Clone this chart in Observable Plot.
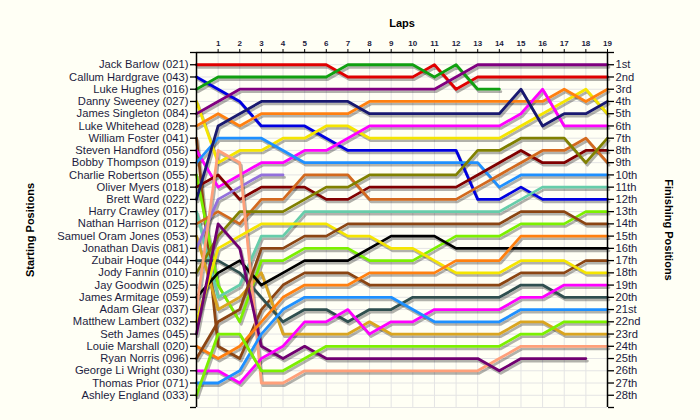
<!DOCTYPE html>
<html><head><meta charset="utf-8">
<script src="https://cdn.jsdelivr.net/npm/d3@7"></script>
<script src="https://cdn.jsdelivr.net/npm/@observablehq/plot@0.6"></script>
<style>
html,body{margin:0;padding:0;background:#FFFFF5;}
#chart svg{display:block;}
</style></head><body><div id="chart"></div>
<script>
const laps = d3.range(0, 20);
const lapTicks = d3.range(1, 20);

const drivers = [
  "Jack Barlow (021)", "Callum Hardgrave (043)", "Luke Hughes (016)", "Danny Sweeney (027)",
  "James Singleton (084)", "Luke Whitehead (028)", "William Foster (041)", "Steven Handford (056)",
  "Bobby Thompson (019)", "Charlie Robertson (055)", "Oliver Myers (018)", "Brett Ward (022)",
  "Harry Crawley (017)", "Nathan Harrison (012)", "Samuel Oram Jones (053)", "Jonathan Davis (081)",
  "Zubair Hoque (044)", "Jody Fannin (010)", "Jay Goodwin (025)", "James Armitage (059)",
  "Adam Glear (037)", "Matthew Lambert (032)", "Seth James (045)", "Louie Marshall (020)",
  "Ryan Norris (096)", "George Li Wright (030)", "Thomas Prior (071)", "Ashley England (033)"
];

const lineColors = [
  "#E00000", "#0000E0", "#10A010", "#F5E500", "#800080", "#FF8010", "#8B4513", "#FF00FF",
  "#1E90FF", "#7CF000", "#800000", "#191970", "#66CDAA", "#D2691E", "#DAA520", "#9370DB",
  "#2F4F4F", "#808000", "#999999", "#000000", "#FFA07A", "#F5E500", "#700070", "#FF8010",
  "#8B4513", "#FF00FF", "#1E90FF", "#7CF000"
];

// position at lap 0 (start) .. lap 19; null = retired
const positions = [
  [1,1,1,1,1,1,1,2,2,2,2,1,3,2,2,2,2,2,2,2],
  [2,3,4,6,6,6,7,8,8,8,8,8,8,12,12,11,12,12,12,12],
  [3,2,2,2,2,2,2,1,1,1,1,2,1,3,3,null,null,null,null,null],
  [4,9,8,8,7,7,6,6,7,7,7,7,7,7,7,6,5,4,3,5],
  [5,4,3,3,3,3,3,3,3,3,3,3,2,1,1,1,1,1,1,1],
  [6,5,6,5,5,5,5,5,4,4,4,4,4,4,4,4,4,3,4,3],
  [7,24,25,21,19,18,18,18,19,19,19,19,19,19,19,18,18,18,17,17],
  [8,11,10,9,9,8,8,7,6,6,6,6,6,6,6,5,3,6,6,6],
  [9,7,7,7,8,9,9,9,9,9,9,9,9,9,11,10,10,10,10,10],
  [10,19,22,17,17,16,16,16,17,17,17,16,15,15,15,14,14,14,13,13],
  [11,10,12,11,11,11,12,12,11,11,11,11,11,10,9,8,9,9,8,8],
  [12,6,5,4,4,4,4,4,5,5,5,5,5,5,5,3,6,5,5,4],
  [13,20,19,15,15,13,13,13,13,13,13,13,13,13,13,12,11,11,11,11],
  [14,13,14,12,12,10,10,10,12,12,12,12,12,11,10,9,8,8,7,9],
  [15,21,20,18,23,23,23,23,22,23,23,23,23,23,23,22,22,23,23,23],
  [16,12,11,10,10,null,null,null,null,null,null,null,null,null,null,null,null,null,null,null],
  [17,17,18,20,22,21,21,22,21,21,20,20,20,20,20,19,19,20,20,20],
  [18,15,13,13,13,12,11,11,10,10,10,10,10,8,8,7,7,7,9,7],
  [19,null,null,null,null,null,null,null,null,null,null,null,null,null,null,null,null,null,null,null],
  [20,18,17,19,18,17,17,17,16,15,15,15,16,16,16,16,16,16,16,16],
  [21,8,9,27,27,26,26,26,26,26,26,26,26,26,25,24,24,24,24,24],
  [22,16,15,14,14,14,14,15,15,16,16,17,18,18,18,17,17,17,18,18],
  [23,14,16,24,25,24,25,25,25,25,25,25,25,25,26,25,25,25,25,null],
  [24,25,24,22,20,19,19,19,18,18,18,18,17,17,17,15,15,15,15,15],
  [25,22,21,16,16,15,15,14,14,14,14,14,14,14,14,13,13,13,14,14],
  [26,26,27,25,24,22,22,21,23,22,22,21,21,21,21,20,20,19,19,19],
  [27,27,26,23,21,20,20,20,20,20,21,22,22,22,22,21,21,21,21,21],
  [28,23,23,26,26,25,24,24,24,24,24,24,24,24,24,23,23,22,22,22]
];

function ordinal(n) {
  const s = (n % 100 >= 11 && n % 100 <= 13) ? "th" : ({1: "st", 2: "nd", 3: "rd"}[n % 10] || "th");
  return n + s;
}

const rows = [];
drivers.forEach((name, i) => {
  laps.forEach(l => {
    const p = positions[i][l];
    if (p != null) rows.push({name, lap: l, pos: p, color: lineColors[i]});
  });
});

const yTicks = d3.range(0, 30);

const chart = Plot.plot({
  width: 700,
  height: 420,
  marginLeft: 196,
  marginRight: 93,
  marginTop: 52,
  marginBottom: 13,
  x: {domain: [0, 19], axis: null},
  y: {domain: [0, 29], reverse: true, axis: null},
  color: {type: "identity"},
  style: {background: "transparent", fontFamily: "'Liberation Sans', Arial, sans-serif", color: "#1c1c40"},
  marks: [
    Plot.gridX(laps, {stroke: "#e4e4e4", strokeOpacity: 1}),
    Plot.gridY(yTicks, {stroke: "#e4e4e4", strokeOpacity: 1}),
    // shadows
    Plot.line(rows, {x: "lap", y: "pos", z: "name", stroke: "#000", strokeOpacity: 0.3, strokeWidth: 2.8, dx: 1.5, dy: 2.5}),
    Plot.line(rows, {x: "lap", y: "pos", z: "name", stroke: "color", strokeWidth: 2.8}),
    Plot.ruleX([0, 19], {stroke: "#000", strokeWidth: 1.5}),
    Plot.ruleY([0], {stroke: "#000", strokeWidth: 1.5}),
    Plot.axisX(lapTicks, {anchor: "top", tickSize: 4, tickPadding: 3, fontSize: 8, fontWeight: "bold", stroke: "#000", label: null}),
    Plot.axisY(yTicks, {anchor: "left", tickSize: 6, tickPadding: 2, fontSize: 11.2, stroke: "#000", strokeWidth: 1.3,
      tickFormat: d => drivers[d - 1] ?? "", label: null}),
    Plot.axisY(yTicks, {anchor: "right", tickSize: 6, tickPadding: 2, fontSize: 11.2, stroke: "#000", strokeWidth: 1.3,
      tickFormat: d => (d >= 1 && d <= 28) ? ordinal(d) : "", label: null}),
    Plot.text(["Laps"], {frameAnchor: "top", dy: -33, fontWeight: "bold", fontSize: 11, fill: "#000"}),
    Plot.text(["Starting Positions"], {frameAnchor: "left", dx: -166, rotate: -90, textAnchor: "middle", fontWeight: "bold", fontSize: 11, fill: "#000"}),
    Plot.text(["Finishing Positions"], {frameAnchor: "right", dx: 61, rotate: 90, textAnchor: "middle", fontWeight: "bold", fontSize: 11, fill: "#000"})
  ]
});
document.getElementById("chart").appendChild(chart);
</script></body></html>
